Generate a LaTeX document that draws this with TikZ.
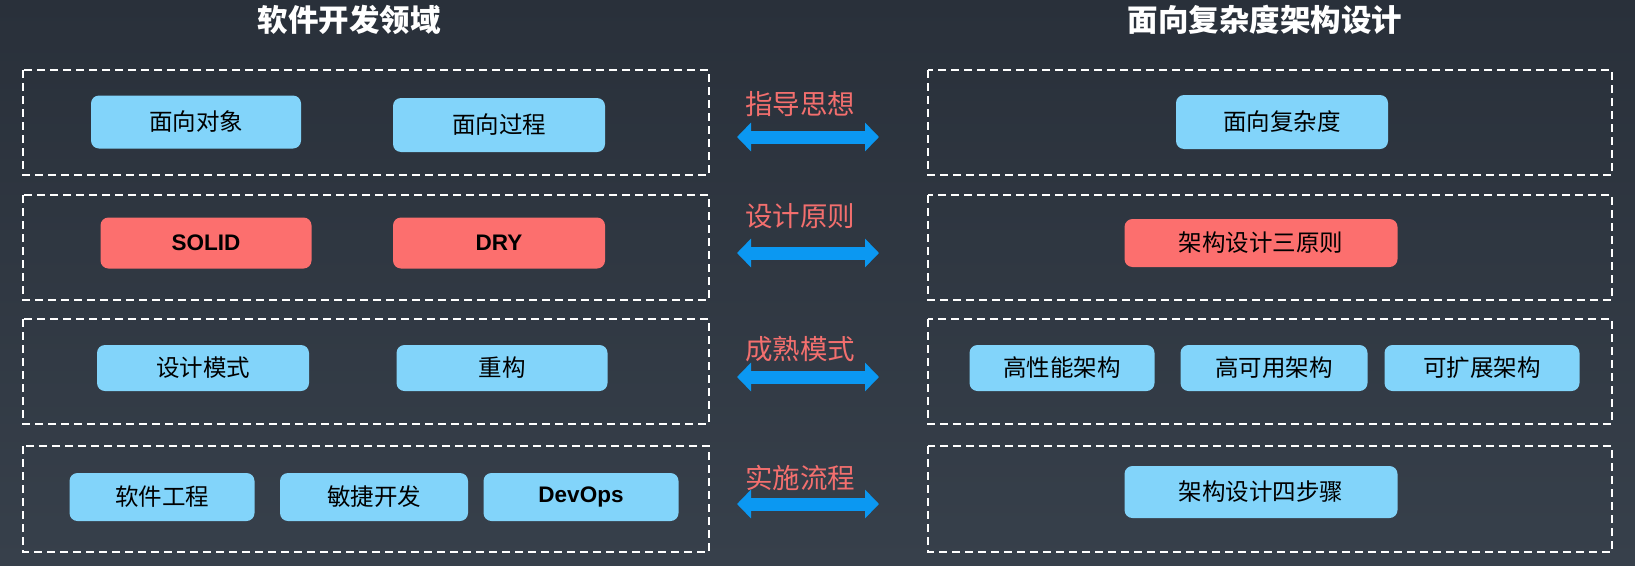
\documentclass[tikz,border=0pt]{standalone}
\usepackage{fontspec}
\setmainfont{Noto Sans CJK SC}
\newfontfamily\latinfont{Liberation Sans}
\usepackage{xcolor}
\usetikzlibrary{arrows.meta, positioning}

\definecolor{bgtop}{HTML}{29303A}
\definecolor{bgbottom}{HTML}{37404B}
\definecolor{itemblue}{HTML}{82D4FA}
\definecolor{itemred}{HTML}{FC6F6E}
\definecolor{labelred}{HTML}{F36F6E}
\definecolor{arrowblue}{HTML}{0B98F2}

\begin{document}
\begin{tikzpicture}[x=1pt, y=-1pt,
    area/.style={draw=white, line width=2pt, dash pattern=on 8pt off 5pt},
    item/.style={fill=itemblue, rounded corners=8pt, inner sep=0pt, text=black,
        font=\fontsize{23.5}{28}\selectfont},
    rule/.style={item, fill=itemred, font=\latinfont\bfseries\fontsize{22.5}{26}\selectfont},
    title/.style={text=white, font=\bfseries\fontsize{30.5}{36}\selectfont},
    relation/.style={text=labelred, font=\fontsize{27.5}{32}\selectfont},
    both/.style={draw=arrowblue, line width=13pt,
        {Triangle[length=14pt,width=28pt]}-{Triangle[length=14pt,width=28pt]}}]

    % Background
    \shade[top color=bgtop, bottom color=bgbottom] (0,0) rectangle (1635,565);

    % Titles
    \node[title] (left) at (349, 20) {软件开发领域};
    \node[title] (right) at (1265, 20) {面向复杂度架构设计};

    % Dashed areas
    \draw[area] (23,70) rectangle (709,175);
    \draw[area] (23,195) rectangle (709,300);
    \draw[area] (23,319) rectangle (709,424);
    \draw[area] (23,446) rectangle (709,552);
    \draw[area] (928,70) rectangle (1612,175);
    \draw[area] (928,195) rectangle (1612,300);
    \draw[area] (928,319) rectangle (1612,424);
    \draw[area] (928,446) rectangle (1612,552);

    % Nodes
    \node[item, minimum width=210pt, minimum height=53pt] (OO) at (196, 122) {面向对象};
    \node[item, minimum width=212pt, minimum height=54pt] (PO) at (499, 125) {面向过程};
    \node[item, minimum width=212pt, minimum height=54pt] (CO) at (1282, 122) {面向复杂度};

    \node[rule, minimum width=211pt, minimum height=51pt] (SOLID) at (206, 243) {SOLID};
    \node[rule, minimum width=212pt, minimum height=51pt] (DRY) at (499, 243) {DRY};
    \node[item, fill=itemred, minimum width=273pt, minimum height=48pt] (PR) at (1261, 243) {架构设计三原则};

    \node[item, minimum width=212pt, minimum height=46pt] (DP) at (203, 368) {设计模式};
    \node[item, minimum width=211pt, minimum height=46pt] (RF) at (502, 368) {重构};
    \node[item, minimum width=185pt, minimum height=46pt] (HP) at (1062, 368) {高性能架构};
    \node[item, minimum width=187pt, minimum height=46pt] (HA) at (1274, 368) {高可用架构};
    \node[item, minimum width=195pt, minimum height=46pt] (SC) at (1482, 368) {可扩展架构};

    \node[item, minimum width=185pt, minimum height=48pt] (SE) at (162, 497) {软件工程};
    \node[item, minimum width=188pt, minimum height=48pt] (AG) at (374, 497) {敏捷开发};
    \node[item, minimum width=195pt, minimum height=48pt, font=\latinfont\bfseries\fontsize{22.5}{26}\selectfont] (DO) at (581, 497) {DevOps};
    \node[item, minimum width=273pt, minimum height=52pt] (FS) at (1261, 492) {架构设计四步骤};

    % Relations
    \node[relation] (guide) at (800, 104) {指导思想};
    \node[relation] (principle) at (800, 216) {设计原则};
    \node[relation] (pattern) at (800, 349) {成熟模式};
    \node[relation] (process) at (800, 478) {实施流程};

    \coordinate (g1) at (737, 137);  \coordinate (g2) at (879, 137);
    \coordinate (p1) at (737, 253);  \coordinate (p2) at (879, 253);
    \coordinate (m1) at (737, 377);  \coordinate (m2) at (879, 377);
    \coordinate (s1) at (737, 504);  \coordinate (s2) at (879, 504);

    % Paths
    \draw[both] (g1) -- (g2);
    \draw[both] (p1) -- (p2);
    \draw[both] (m1) -- (m2);
    \draw[both] (s1) -- (s2);
\end{tikzpicture}
\end{document}
